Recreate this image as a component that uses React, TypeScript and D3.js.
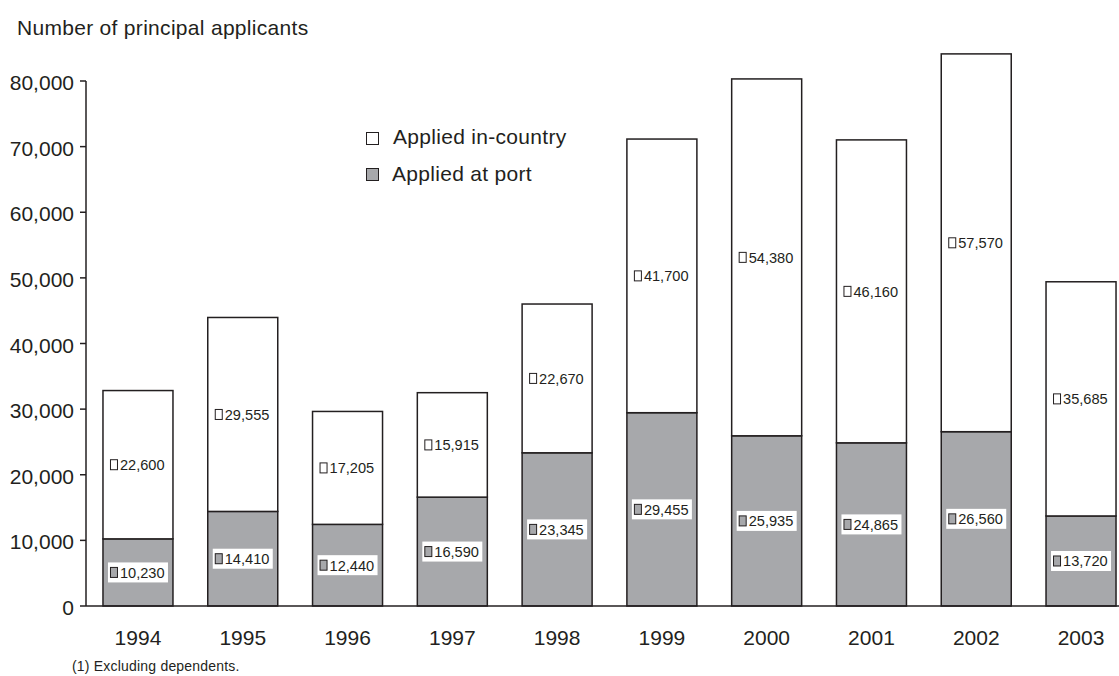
import React from 'react';
import * as d3 from 'd3';

const years = ['1994', '1995', '1996', '1997', '1998', '1999', '2000', '2001', '2002', '2003'];
const atPort = [10230, 14410, 12440, 16590, 23345, 29455, 25935, 24865, 26560, 13720];
const inCountry = [22600, 29555, 17205, 15915, 22670, 41700, 54380, 46160, 57570, 35685];
const yTicks = [0, 10000, 20000, 30000, 40000, 50000, 60000, 70000, 80000];

const W = 1119;
const H = 676;
const FONT = '"Liberation Sans", Arial, Helvetica, sans-serif';
const GREY = '#a7a8ab';
const INK = '#231f20';

const App: React.FC = () => {
  const x = d3.scaleBand<string>().domain(years).range([86, 1133]).paddingInner(0.332).paddingOuter(0.162);
  const y = d3.scaleLinear().domain([0, 80000]).range([606, 81]);
  const fmt = d3.format(',');
  const bw = x.bandwidth();

  // value tag: small swatch + number, centred on the segment
  const label = (cx: number, cy: number, v: number, filled: boolean) => {
    const left = cx - 28;
    return (
      <g>
        {filled && <rect x={cx - 30} y={cy - 10} width={60} height={20} fill="#fff" />}
        <rect x={left + 0.5} y={cy - 5} width={7} height={10} fill={filled ? GREY : '#fff'} stroke={INK} strokeWidth={1} />
        <text x={left + 10} y={cy + 5.5} fontSize={14.6} fill={INK} fontFamily={FONT}>{fmt(v)}</text>
      </g>
    );
  };

  return (
    <svg width={W} height={H} style={{ position: 'absolute', left: 0, top: 0, background: '#fff' }}>
      <text x={17} y={35} fontSize={21} letterSpacing={0.3} fill={INK} fontFamily={FONT}>Number of principal applicants</text>

      {yTicks.map((t) => (
        <g key={t}>
          <line x1={80} x2={86} y1={y(t)} y2={y(t)} stroke={INK} strokeWidth={1.5} />
          <text x={74} y={y(t) + 9} textAnchor="end" fontSize={21} fill={INK} fontFamily={FONT}>{fmt(t)}</text>
        </g>
      ))}

      {years.map((yr, i) => {
        const x0 = x(yr) as number;
        const cx = x0 + bw / 2;
        const p = atPort[i];
        const c = inCountry[i];
        return (
          <g key={yr}>
            <rect x={x0} y={y(p)} width={bw} height={y(0) - y(p)} fill={GREY} stroke={INK} strokeWidth={1.5} />
            <rect x={x0} y={y(p + c)} width={bw} height={y(p) - y(p + c)} fill="#fff" stroke={INK} strokeWidth={1.5} />
            {label(cx, y(p / 2), p, true)}
            {label(cx, y(p + c / 2), c, false)}
            <text x={cx} y={645} textAnchor="middle" fontSize={21} fill={INK} fontFamily={FONT}>{yr}</text>
          </g>
        );
      })}

      <line x1={86} x2={86} y1={y(80000)} y2={y(0)} stroke={INK} strokeWidth={1.5} />
      <line x1={86} x2={W} y1={y(0)} y2={y(0)} stroke={INK} strokeWidth={1.5} />

      <rect x={366.5} y={132.5} width={12} height={12} fill="#fff" stroke={INK} strokeWidth={1} />
      <text x={393} y={144} fontSize={21} letterSpacing={0.3} fill={INK} fontFamily={FONT}>Applied in-country</text>
      <rect x={366.5} y={168.5} width={12} height={12} fill={GREY} stroke={INK} strokeWidth={1} />
      <text x={392} y={181} fontSize={21} letterSpacing={0.3} fill={INK} fontFamily={FONT}>Applied at port</text>

      <text x={72} y={671} fontSize={14} letterSpacing={0.2} fill={INK} fontFamily={FONT}>(1) Excluding dependents.</text>
    </svg>
  );
};

export default App;
